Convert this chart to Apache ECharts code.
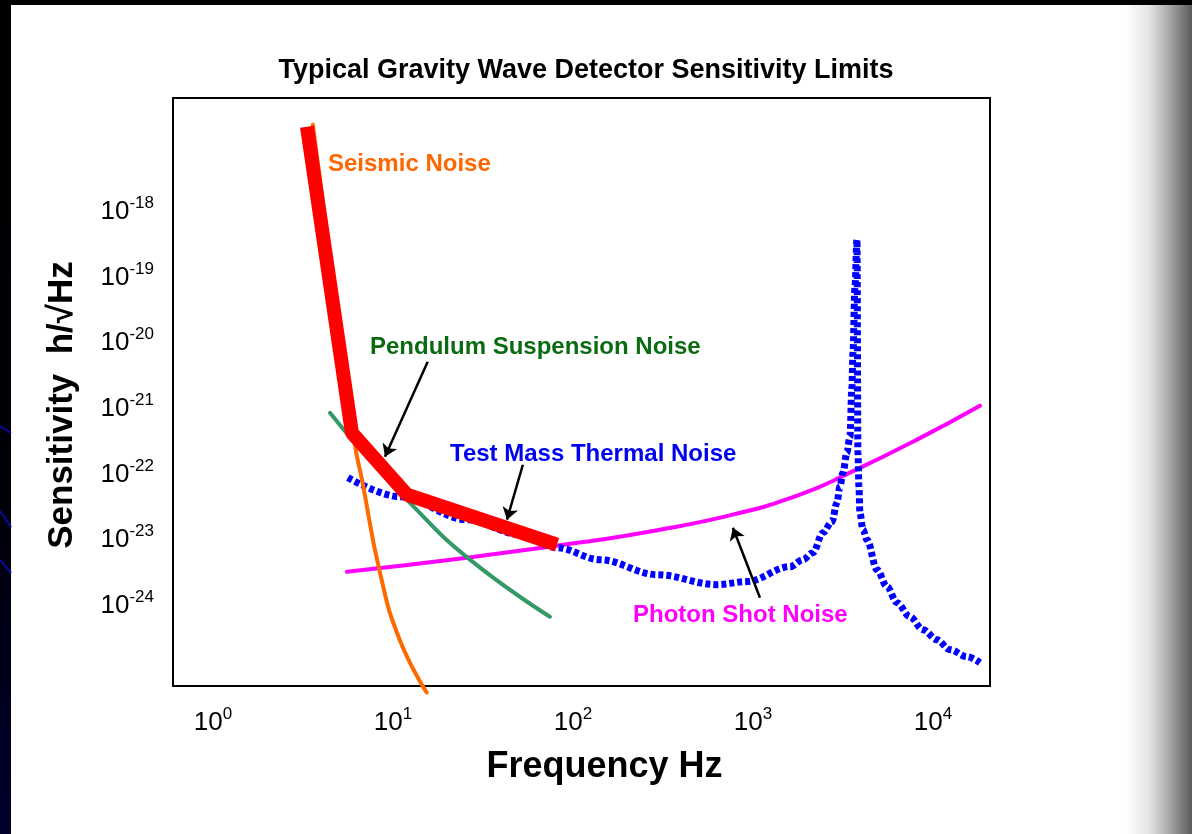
<!DOCTYPE html>
<html>
<head>
<meta charset="utf-8">
<title>Typical Gravity Wave Detector Sensitivity Limits</title>
<script src="https://cdn.jsdelivr.net/npm/echarts@6/dist/echarts.min.js"></script>
<style>
  html, body { margin: 0; padding: 0; background: #fff; }
  #chartsDOM { width: 1192px; height: 834px; }
</style>
</head>
<body>
<div id="chartsDOM"></div>
<script>
// values (frequency in Hz, sensitivity in h/sqrt(Hz))
const seismicFreq = [3.59, 4.64, 6.15, 6.73, 8.47, 10.9, 15.4];
const seismicAmp = [1.97e-17, 8.6e-20, 2.65e-22, 7.76e-23, 2.99e-24, 2.85e-25, 4.47e-26];

const pendulumFreq = [4.47, 6.15, 12.4, 26.8, 74.5];
const pendulumAmp = [8.1e-22, 2.84e-22, 3.47e-23, 4.71e-24, 6.38e-25];

const thermalFreq = [5.62, 10.9, 25.8, 50.8, 81.5, 141, 293, 631, 926, 1606, 1897, 2154, 2449, 2748, 2930, 3043, 3162, 3327, 3459, 3548, 3594, 3690, 3784,
  3831, 3882, 3929, 4083, 4299, 4887, 5550, 6310, 7450, 8796, 10520, 12420, 15450, 18250];
const thermalAmp = [8.34e-23, 4.28e-23, 1.91e-23, 1.13e-23, 7.16e-24, 4.71e-24, 2.78e-24, 1.96e-24, 2.18e-24, 3.68e-24, 4.71e-24, 6.01e-24, 1.21e-23, 1.78e-23, 3.47e-23, 6.08e-23, 9.93e-23, 2.0e-22, 3.51e-22, 2.02e-21, 6.65e-21, 6.73e-20, 3.49e-19,
  2.0e-22, 6.08e-23, 2.44e-23, 1.35e-23, 9.48e-24, 3.32e-24, 1.83e-24, 1.04e-24, 6.38e-25, 4.05e-25, 2.85e-25, 2.01e-25, 1.57e-25, 1.27e-25];

const shotFreq = [5.55, 25.8, 141, 268, 774, 1824, 3459, 8150, 18250];
const shotAmp = [3.09e-24, 5.05e-24, 9.48e-24, 1.26e-23, 2.28e-23, 4.59e-23, 9.93e-23, 3.16e-22, 1.04e-21];

// overall limit (thick red)
const limitFreq = [3.33, 5.92, 11.96, 81.5];
const limitAmp = [1.83e-17, 4.0e-22, 4.59e-23, 7.95e-24];

// annotation arrows: [fromFreq, fromAmp, toFreq, toAmp]
const arrowPendulum = [15.6, 4.85e-21, 9.03, 1.74e-22];
const arrowThermal = [52.7, 1.31e-22, 43.0, 1.91e-23];
const arrowShot = [1094, 1.24e-24, 774, 1.44e-23];

const xTickExps = [0, 1, 2, 3, 4];
const yTickExps = [-18, -19, -20, -21, -22, -23, -24];
const xRange = [0.6, 20750];
const yRange = [5.62e-26, 5.01e-17];

// echarts rounds very small log extents to 0, so the y axis runs in units of 1e-26
const Y_UNIT_EXP = -26;
const Y_UNIT = Math.pow(10, Y_UNIT_EXP);

const FONT = 'Liberation Sans, Arial, sans-serif';

function zip(a, b) {
  return a.map((v, i) => [v, b[i] / Y_UNIT]);
}

function arrowLine(a) {
  return [{ coord: [a[0], a[1] / Y_UNIT] }, { coord: [a[2], a[3] / Y_UNIT] }];
}

function powLabel(allowed, shift) {
  return function (v) {
    const lg = Math.log10(v);
    const e = Math.round(lg);
    if (Math.abs(lg - e) > 1e-6) return '';
    if (allowed.indexOf(e + shift) < 0) return '';
    return '{b|10}{s|' + (e + shift) + '}';
  };
}

const tickRich = {
  b: { fontSize: 26, fontFamily: FONT, color: '#000', verticalAlign: 'bottom', lineHeight: 30 },
  s: { fontSize: 17, fontFamily: FONT, color: '#000', verticalAlign: 'top', lineHeight: 18 }
};

let chart = echarts.init(document.getElementById('chartsDOM'));

const option = {
  animation: false,
  backgroundColor: '#fff',
  title: {
    text: 'Typical Gravity Wave Detector Sensitivity Limits',
    left: 581,
    top: 52,
    textAlign: 'center',
    textStyle: { fontFamily: FONT, fontSize: 27, fontWeight: 'bold', color: '#000' }
  },
  grid: {
    left: 173,
    top: 98,
    width: 817,
    height: 588,
    show: true,
    borderColor: '#000',
    borderWidth: 2,
    backgroundColor: 'transparent'
  },
  xAxis: {
    type: 'log',
    logBase: 10,
    min: xRange[0],
    max: xRange[1],
    axisLine: { show: false },
    axisTick: { show: false },
    splitLine: { show: false },
    axisLabel: {
      margin: 20,
      formatter: powLabel(xTickExps, 0),
      rich: tickRich
    },
    name: 'Frequency Hz',
    nameLocation: 'middle',
    nameGap: 63,
    nameTextStyle: { fontFamily: FONT, fontSize: 36, fontWeight: 'bold', color: '#000', padding: [0, 0, 0, 46] }
  },
  yAxis: {
    type: 'log',
    logBase: 10,
    min: yRange[0] / Y_UNIT,
    max: yRange[1] / Y_UNIT,
    axisLine: { show: false },
    axisTick: { show: false },
    splitLine: { show: false },
    axisLabel: {
      margin: 19,
      formatter: powLabel(yTickExps, Y_UNIT_EXP),
      rich: tickRich
    },
    name: 'Sensitivity  h/\u221AHz',
    nameLocation: 'middle',
    nameGap: 93,
    nameTextStyle: { fontFamily: FONT, fontSize: 35, fontWeight: 'bold', color: '#000', padding: [0, 26, 0, 0] }
  },
  graphic: [
    // slide frame pieces
    { type: 'rect', silent: true, shape: { x: 0, y: 0, width: 1192, height: 5 }, style: { fill: '#000' } },
    {
      type: 'rect', silent: true, shape: { x: 0, y: 0, width: 11, height: 834 },
      style: { fill: new echarts.graphic.LinearGradient(0, 0, 0, 1, [
        { offset: 0, color: '#000000' }, { offset: 0.6, color: '#000008' }, { offset: 1, color: '#00002e' }
      ]) }
    },
    { type: 'polyline', silent: true, shape: { points: [[0, 426], [11, 433]] }, style: { stroke: '#0a0aa0', lineWidth: 2 } },
    { type: 'polyline', silent: true, shape: { points: [[0, 511], [11, 527]] }, style: { stroke: '#0a0aa0', lineWidth: 2 } },
    { type: 'polyline', silent: true, shape: { points: [[0, 560], [11, 573]] }, style: { stroke: '#0a0aa0', lineWidth: 2 } },
    {
      type: 'rect', silent: true, shape: { x: 1126, y: 5, width: 66, height: 829 },
      style: { fill: new echarts.graphic.LinearGradient(0, 0, 1, 0, [
        { offset: 0, color: '#ffffff' }, { offset: 0.35, color: '#e4e4e4' },
        { offset: 0.6, color: '#b4b4b4' }, { offset: 1, color: '#5a5a5a' }
      ]) }
    },
    // curve labels
    { type: 'text', left: 328, top: 152, silent: true,
      style: { text: 'Seismic Noise', fill: '#ff6600', font: 'bold 24px ' + FONT } },
    { type: 'text', left: 370, top: 335, silent: true,
      style: { text: 'Pendulum Suspension Noise', fill: '#0b6b12', font: 'bold 24px ' + FONT } },
    { type: 'text', left: 450, top: 442, silent: true,
      style: { text: 'Test Mass Thermal Noise', fill: '#0000f0', font: 'bold 24px ' + FONT } },
    { type: 'text', left: 633, top: 603, silent: true,
      style: { text: 'Photon Shot Noise', fill: '#ff00ff', font: 'bold 24px ' + FONT } }
  ],
  series: [
    {
      name: 'Photon Shot Noise',
      type: 'line',
      data: zip(shotFreq, shotAmp),
      smooth: true,
      showSymbol: false,
      z: 2,
      lineStyle: { color: '#ff00ff', width: 4, cap: 'round' }
    },
    {
      name: 'Pendulum Suspension Noise',
      type: 'line',
      data: zip(pendulumFreq, pendulumAmp),
      smooth: true,
      showSymbol: false,
      z: 3,
      lineStyle: { color: '#339966', width: 4, cap: 'round' }
    },
    {
      name: 'Test Mass Thermal Noise',
      type: 'line',
      data: zip(thermalFreq, thermalAmp),
      smooth: 0.35,
      smoothMonotone: 'x',
      showSymbol: false,
      z: 4,
      lineStyle: { color: '#0000ff', width: 7, type: [5, 3] }
    },
    {
      name: 'Seismic Noise',
      type: 'line',
      data: zip(seismicFreq, seismicAmp),
      smooth: true,
      clip: false,
      showSymbol: false,
      z: 5,
      lineStyle: { color: '#ff6a00', width: 4, cap: 'round' }
    },
    {
      name: 'Limit',
      type: 'line',
      data: zip(limitFreq, limitAmp),
      showSymbol: false,
      z: 6,
      lineStyle: { color: '#ff0000', width: 14 },
      markLine: {
        silent: true,
        symbol: ['none', 'arrow'],
        symbolSize: 12,
        label: { show: false },
        emphasis: { disabled: true },
        lineStyle: { color: '#000', width: 2.5, type: 'solid' },
        data: [arrowLine(arrowPendulum), arrowLine(arrowThermal), arrowLine(arrowShot)]
      }
    }
  ]
};

option && chart.setOption(option);
</script>
</body>
</html>
